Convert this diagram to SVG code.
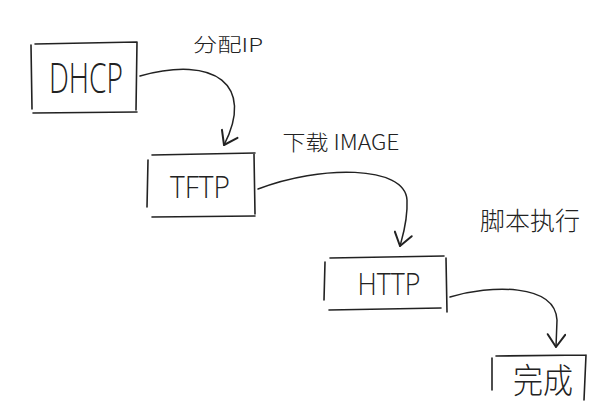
<svg xmlns="http://www.w3.org/2000/svg" width="599" height="405" viewBox="0 0 599 405">
<defs>
<marker id="arr" markerUnits="userSpaceOnUse" markerWidth="20" markerHeight="20" viewBox="-12 -8 14 16" refX="0" refY="0" orient="auto">
<polyline points="-10,-7 0,0 -10,7" fill="none" stroke="#222" stroke-width="1.6" stroke-linecap="round" stroke-linejoin="round"/>
</marker>
</defs>
<style>
.bx{fill:none;stroke:#222;stroke-width:1.6;stroke-linecap:round}
.t{font-family:"Open Sans","Liberation Sans","Noto Sans CJK SC",sans-serif;font-weight:300;fill:#222;text-anchor:middle}
.c{font-family:"Noto Sans CJK SC",sans-serif;fill:#222;text-anchor:middle;font-weight:300}
.ln{fill:none;stroke:#222;stroke-width:1.5;stroke-linecap:round}
</style>
<rect width="599" height="405" fill="#fff"/>
<g id="dhcp">
<path class="bx" d="M35,44 L137,42 M31,45 L32,109 M33,113 L137,112 M137,42 L136,110"/>
<text class="t" x="86" y="93" font-size="43" textLength="74" lengthAdjust="spacingAndGlyphs">DHCP</text>
</g>
<g id="tftp">
<path class="bx" d="M152,155 L255,153 M148,160 L147,207 M152,217 L255,216 M254,154 L255,214"/>
<text class="t" x="200" y="198" font-size="32" textLength="60" lengthAdjust="spacingAndGlyphs">TFTP</text>
</g>
<g id="http">
<path class="bx" d="M330,258 L444,256 M325,262 L324,300 M329,310 L441,308 M446,258 L447,312"/>
<text class="t" x="389" y="295" font-size="32" textLength="63" lengthAdjust="spacingAndGlyphs">HTTP</text>
</g>
<g id="done">
<path class="bx" d="M496,356 L586,355 M492,358 L492,390 M586,355 L584,400"/>
<text class="c" x="543" y="393" font-size="34" textLength="60" lengthAdjust="spacingAndGlyphs">完成</text>
</g>
<g id="labels">
<text class="c" x="228" y="52" font-size="19" textLength="70" lengthAdjust="spacingAndGlyphs">分配IP</text>
<text class="c" x="341" y="150" font-size="21" textLength="117" lengthAdjust="spacingAndGlyphs">下载 IMAGE</text>
<text class="c" x="530" y="230" font-size="25" textLength="100" lengthAdjust="spacingAndGlyphs">脚本执行</text>
</g>
<g id="connectors">
<path class="ln" d="M140,76 C215,55 255,85 224,145" marker-end="url(#arr)"/>
<path class="ln" d="M258,189 C320,165 405,165 407,200 C408,220 403,235 400,246" marker-end="url(#arr)"/>
<path class="ln" d="M450,297 C490,285 555,283 557,320 L556,347" marker-end="url(#arr)"/>
</g>
</svg>
